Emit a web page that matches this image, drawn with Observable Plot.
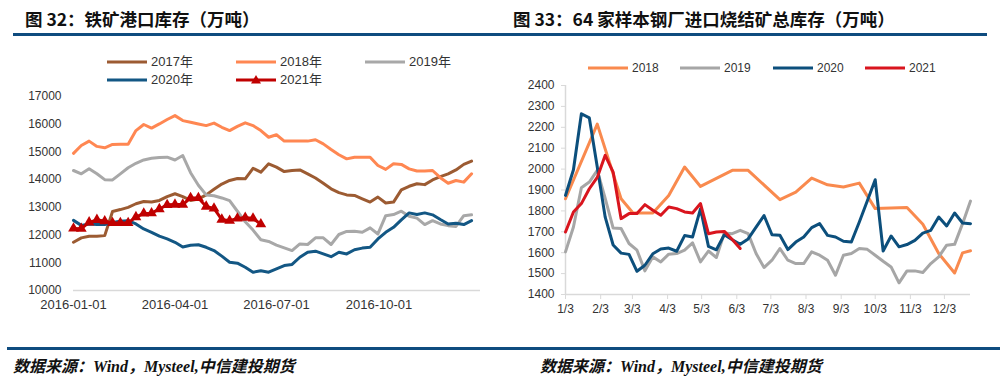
<!DOCTYPE html>
<html><head><meta charset="utf-8">
<script src="https://cdn.jsdelivr.net/npm/d3@7"></script>
<script src="https://cdn.jsdelivr.net/npm/@observablehq/plot@0.6"></script>
<style>
body{margin:0;background:#fff;}
#page{position:relative;width:1003px;height:383px;overflow:hidden;background:#fff;font-family:"Liberation Sans",Arial,"Noto Sans CJK SC",sans-serif;}
.title{position:absolute;top:8px;font-family:"Noto Sans CJK SC",sans-serif;font-weight:700;font-size:17.5px;color:#111;white-space:nowrap;line-height:22px;}
.rule{position:absolute;background:#0f4c7f;}
.src{position:absolute;top:357px;font-family:"Liberation Serif","Noto Sans CJK SC",serif;font-weight:700;font-style:italic;font-size:16px;color:#111;white-space:nowrap;line-height:20px;}
.leg{position:absolute;display:flex;align-items:center;color:#333;white-space:nowrap;height:16px;line-height:16px;font-family:"Liberation Sans",Arial,"Noto Sans CJK SC",sans-serif;}
.chart{position:absolute;top:40px;}
</style></head>
<body><div id="page">
<div class="title" style="left:25px">图 32：铁矿港口库存（万吨）</div>
<div class="title" style="left:513px">图 33：64 家样本钢厂进口烧结矿总库存（万吨）</div>
<div class="rule" style="left:13px;top:33px;width:974px;height:3px"></div>
<div class="rule" style="left:7px;top:347px;width:993px;height:3px"></div>
<div class="src" style="left:13px">数据来源：Wind，Mysteel,中信建投期货</div>
<div class="src" style="left:540px">数据来源：Wind，Mysteel,中信建投期货</div>
<div id="left" class="chart" style="left:0px"></div>
<div id="right" class="chart" style="left:500px"></div>
</div>
<script>
// ---------- Left chart data (weekly, from 2016-01-01) ----------
const leftSeriesNames = ["2017年","2018年","2019年","2020年","2021年"];
const left2017 = [11740,11900,11960,11960,11980,12850,12920,13000,13130,13210,13190,13250,13390,13490,13390,13250,13300,13450,13650,13840,13970,14040,14030,14410,14270,14570,14450,14290,14330,14350,14210,14060,13870,13670,13530,13450,13430,13310,13190,13370,13160,13190,13630,13760,13850,13820,13990,14110,14210,14350,14550,14670];
const left2018 = [14950,15230,15390,15200,15150,15270,15280,15280,15770,15990,15860,16010,16170,16310,16130,16070,16010,15950,16040,15890,15770,15920,16050,15950,15770,15530,15620,15390,15390,15390,15390,15440,15290,15090,14900,14750,14810,14810,14810,14510,14370,14570,14550,14390,14310,14310,14330,14070,13870,13970,13910,14210];
const left2019 = [14330,14210,14390,14210,14000,13990,14210,14430,14590,14710,14770,14800,14810,14710,14870,14250,13800,13450,13420,13340,13240,12860,12480,12180,11830,11770,11640,11540,11440,11680,11660,11900,11900,11660,12020,12130,12140,12100,12260,12040,12700,12740,12860,12680,12610,12380,12520,12400,12340,12310,12700,12730];
const left2020 = [12530,12350,12400,12380,12380,12450,12500,12520,12400,12220,12100,11960,11860,11740,11570,11630,11650,11560,11440,11240,11020,10985,10840,10660,10710,10660,10780,10900,10940,11200,11380,11420,11320,11220,11380,11320,11470,11530,11560,11860,12100,12280,12550,12800,12740,12800,12730,12560,12400,12430,12380,12520];
const left2021 = [12240,12230,12460,12550,12500,12440,12440,12440,12650,12780,12790,12940,13090,13100,13100,13340,13340,13030,12960,12560,12520,12600,12630,12600,12390];
const leftColors = ["#9c5b32","#ff8752","#a8a8a8","#135784","#c00000"];
const leftYTicks = [10000,11000,12000,13000,14000,15000,16000,17000];
const leftXTicks = ["2016-01-01","2016-04-01","2016-07-01","2016-10-01"];
const leftStart = "2016-01-01", leftEnd = "2016-12-31";

// ---------- Right chart data (weekly, from 1/3) ----------
const rightSeriesNames = ["2018","2019","2020","2021"];
const right2018Weeks = [0,4,7,8.5,11,13,15,17,21,23,27,29,31,33,35,37,39,43,45,47,49,50,51];
const right2018 = [1858,2215,1858,1790,1790,1874,2010,1917,1994,1994,1854,1890,1957,1925,1914,1933,1811,1816,1736,1596,1503,1599,1609];
const right2019 = [1604,1723,1911,1938,1994,1860,1718,1716,1644,1612,1513,1580,1556,1593,1596,1612,1647,1556,1608,1577,1694,1691,1707,1691,1596,1529,1564,1620,1564,1548,1548,1604,1588,1564,1492,1588,1596,1620,1616,1588,1559,1532,1456,1513,1513,1505,1548,1580,1636,1640,1739,1847];
const right2020 = [1874,1997,2265,2245,2010,1770,1637,1598,1592,1511,1540,1595,1618,1622,1607,1682,1675,1810,1630,1614,1686,1662,1640,1666,1722,1778,1686,1683,1615,1651,1675,1720,1739,1683,1675,1655,1651,1747,1847,1949,1608,1680,1628,1639,1659,1694,1707,1771,1728,1790,1742,1739];
const right2021 = [1699,1795,1835,1906,1960,2066,1986,1763,1787,1787,1830,1803,1779,1819,1811,1795,1790,1835,1691,1699,1702,1663,1620];
const rightColors = ["#f98a4e","#a6a6a6","#0c4f7c","#d9151e"];
const rightYTicks = [1400,1500,1600,1700,1800,1900,2000,2100,2200,2300,2400];
const rightXTickLabels = ["1/3","2/3","3/3","4/3","5/3","6/3","7/3","8/3","9/3","10/3","11/3","12/3"];
const rightYear = 2021, rightLastWeek = 51;

// ---------- helpers ----------
const DAY = 864e5;
const lStart = new Date(leftStart + "T00:00:00Z");
const leftRows = vals => vals.map((v, i) => ({date: new Date(+lStart + 7 * i * DAY), value: v}));
const rStart = new Date(Date.UTC(rightYear, 0, 3));
const weekDate = w => new Date(+rStart + 7 * w * DAY);
const rightRows = (vals, weeks) => vals.map((v, i) => ({date: weekDate(weeks ? weeks[i] : i), value: v}));
const rightTickDates = rightXTickLabels.map(s => { const [m, d] = s.split("/").map(Number); return new Date(Date.UTC(rightYear, m - 1, d)); });

// ---------- Left plot ----------
const lData = [left2017, left2018, left2019, left2020, left2021].map(leftRows);
const leftPlot = Plot.plot({
  width: 500, height: 280,
  marginLeft: 73, marginRight: 20, marginTop: 56, marginBottom: 30,
  style: {fontFamily: '"Liberation Sans", Arial, sans-serif', color: "#333", background: "transparent", overflow: "visible"},
  x: {type: "utc", domain: [lStart, new Date(leftEnd + "T00:00:00Z")], label: null},
  y: {domain: [leftYTicks[0], leftYTicks[leftYTicks.length - 1]], label: null},
  marks: [
    Plot.ruleY([leftYTicks[0]], {stroke: "#d9d9d9", strokeWidth: 1.5}),
    Plot.axisY({ticks: leftYTicks, tickSize: 0, tickPadding: 12, tickFormat: d => String(d), fontSize: 12, label: null}),
    Plot.axisX({ticks: leftXTicks.map(s => new Date(s + "T00:00:00Z")), tickSize: 0, tickPadding: 9, tickFormat: d3.utcFormat("%Y-%m-%d"), fontSize: 13, label: null}),
    ...lData.map((rows, k) => Plot.line(rows, {x: "date", y: "value", stroke: leftColors[k], strokeWidth: 3, strokeLinejoin: "round"})),
    Plot.dot(lData[4], {x: "date", y: "value", symbol: "triangle", r: 4, fill: leftColors[4], stroke: "none"})
  ]
});
document.getElementById("left").appendChild(leftPlot);

// ---------- Right plot ----------
const rData = [rightRows(right2018, right2018Weeks), rightRows(right2019), rightRows(right2020), rightRows(right2021)];
const rightPlot = Plot.plot({
  width: 503, height: 290,
  marginLeft: 65, marginRight: 33, marginTop: 45, marginBottom: 36,
  style: {fontFamily: '"Liberation Sans", Arial, sans-serif', color: "#333", background: "transparent", overflow: "visible"},
  x: {type: "utc", domain: [rStart, weekDate(rightLastWeek)], label: null},
  y: {domain: [rightYTicks[0], rightYTicks[rightYTicks.length - 1]], label: null},
  marks: [
    Plot.ruleY([rightYTicks[0]], {stroke: "#d9d9d9", strokeWidth: 1.5}),
    Plot.ruleX([rStart], {stroke: "#d9d9d9", strokeWidth: 1.5}),
    Plot.axisY({ticks: rightYTicks, tickSize: 4, tickPadding: 7, stroke: "#d9d9d9", tickFormat: d => String(d), fontSize: 12, label: null}),
    Plot.axisX({ticks: rightTickDates, tickSize: 5, tickPadding: 5, stroke: "#d9d9d9", tickFormat: (d, i) => rightXTickLabels[i], fontSize: 12, label: null}),
    ...rData.map((rows, k) => Plot.line(rows, {x: "date", y: "value", stroke: rightColors[k], strokeWidth: 3, strokeLinejoin: "round"}))
  ]
});
document.getElementById("right").appendChild(rightPlot);

// ---------- Legends (HTML) ----------
const page = document.getElementById("page");
function legendItem(x, y, name, color, fontSize, marker) {
  const div = document.createElement("div");
  div.className = "leg";
  div.style.left = x + "px"; div.style.top = (y - 8) + "px"; div.style.fontSize = fontSize + "px";
  let svg = `<svg width="40" height="16"><line x1="0" x2="40" y1="8" y2="8" stroke="${color}" stroke-width="3"/>`;
  if (marker) svg += `<path d="M20,3L25,11.5L15,11.5Z" fill="${color}"/>`;
  svg += `</svg>`;
  div.innerHTML = svg + `<span style="margin-left:4px">${name}</span>`;
  page.appendChild(div);
}
const leftLegendPos = [[107,62],[236,62],[365,62],[107,80],[236,80]];
leftSeriesNames.forEach((n, k) => legendItem(leftLegendPos[k][0], leftLegendPos[k][1], n, leftColors[k], 13, k === 4));
const rightLegendX = [588, 680, 773, 865];
rightSeriesNames.forEach((n, k) => legendItem(rightLegendX[k], 68, n, rightColors[k], 12, false));
</script></body></html>
